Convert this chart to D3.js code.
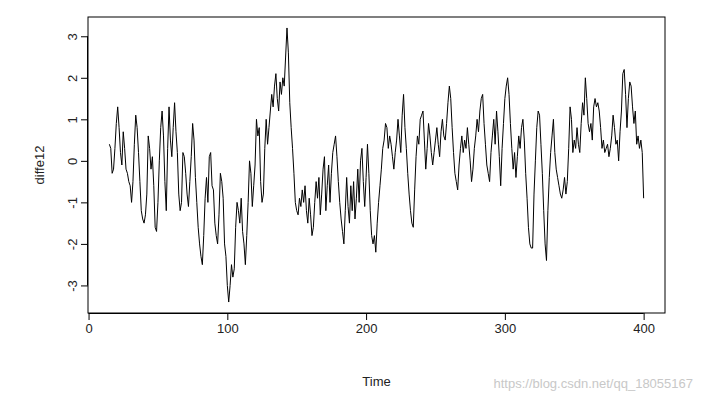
<!DOCTYPE html>
<html>
<head>
<meta charset="utf-8">
<script src="https://cdn.jsdelivr.net/npm/d3@7"></script>
<style>
  body { margin: 0; background: #fff; }
  text { font-family: "Liberation Sans", Arial, sans-serif; }
</style>
</head>
<body>
<svg width="701" height="402"></svg>
<script>
// differenced series, ends at t = 400
const diffe12 = [
  0.4, 0.3, -0.3, -0.2, 0.3, 0.9, 1.3, 0.8,
  0.2, -0.1, 0.7, 0.3, -0.2, -0.3, -0.5, -0.6, -1.0, -0.5,
  0.4, 1.1, 0.8, 0.2, -0.5, -1.2, -1.4, -1.5, -1.3, -0.8,
  0.6, 0.3, -0.2, 0.1, -0.6, -1.6, -1.7, -1.0, 0.0, 0.8,
  1.2, 0.6, -0.5, -1.2, 0.3, 1.3, 0.5, 0.1, 0.8, 1.4,
  0.7, 0.2, -0.8, -1.2, -1.0, 0.2, 0.1, -0.3, -0.8, -1.1,
  -0.5, 0.1, 0.9, 0.5, -0.4, -1.0, -1.6, -2.0, -2.3, -2.5,
  -1.8, -0.9, -0.4, -1.0, 0.1, 0.2, -0.6, -0.7, -1.5, -1.8,
  -2.0, -1.3, -0.3, -0.5, -0.9, -2.0, -2.3, -3.0, -3.4, -3.0,
  -2.5, -2.8, -2.6, -1.6, -1.0, -1.2, -1.5, -0.9, -1.7, -2.0,
  -2.5, -1.8, -1.0, 0.0, -0.3, -1.1, -0.6, -0.1, 1.0, 0.6,
  0.8, -0.5, -1.0, -0.8, 0.3, 1.0, 0.4, 0.8, 1.2, 1.6,
  1.3, 1.8, 2.1, 1.5, 1.2, 1.9, 1.6, 2.0, 1.8, 2.5,
  3.2, 2.6, 1.4, 0.8, 0.3, -0.3, -1.0, -1.2,
  -1.3, -0.9, -1.1, -0.7, -1.0, -0.6, -1.2, -1.5, -0.9, -1.3,
  -1.8, -1.6, -1.0, -0.5, -0.9, -0.4, -1.3, -0.8, -0.2, 0.1,
  -1.2, -0.6, -0.1, -1.0, -0.3, 0.2, 0.4, 0.6, 0.1, -0.5,
  -1.0, -1.4, -1.7, -2.0, -1.2, -0.4, -1.1, -1.5, -0.6, -1.2,
  -0.5, -1.4, -0.9, -0.2, -1.0, 0.0, 0.3, -0.5, -1.1, -0.4,
  0.4, -0.3, -1.2, -1.8, -2.0, -1.8, -2.2, -1.5, -1.0, -0.6,
  -0.2, 0.3, 0.5, 0.9, 0.8, 0.3, 0.6, 0.4, 0.1, -0.2,
  0.2, 0.5, 1.0, 0.6, 0.2, 1.1, 1.6, 0.8, 0.3, -0.3,
  -0.8, -1.2, -1.5, -1.6, -0.7, 0.1, 0.6, 0.4, 1.0, 1.1,
  1.2, 0.5, -0.2, 0.3, 0.9, 0.6, 0.2, -0.1, 0.2, 0.5,
  0.8, 0.4, 0.1, 0.7, 1.0, 0.6, 0.5, 0.9, 1.4, 1.8,
  1.5, 0.8, 0.2, -0.3, -0.5, -0.7, -0.1, 0.3, 0.6, 0.2,
  0.5, 0.3, 0.8, 0.4, 0.0, -0.5, -0.2, 0.3, 0.6, 1.0,
  0.7, 1.2, 1.5, 1.6, 0.9, 0.4, -0.1, -0.3, -0.5, 0.2,
  0.6, 1.0, 0.4, 1.2, 0.7, 0.1, -0.6, 0.3, 0.9, 1.5,
  1.8, 2.0, 1.6, 0.9, 0.3, -0.2, 0.2, -0.4, 0.1, 0.6,
  0.3, 0.8, 1.0, 0.5, -0.3, -0.9, -1.6, -2.0, -2.1, -2.1,
  -0.8, 0.0, 0.8, 1.2, 1.1, 0.4, -0.3, -1.2, -2.0, -2.4,
  -1.2, -0.4, 0.2, 0.6, 1.0, 0.2, -0.2, -0.4, -0.6, -0.8,
  -0.9, -0.7, -0.4, -0.8, -0.5, 0.3, 1.3, 1.0, 0.2, 0.5,
  0.3, 0.8, 0.4, 0.2, 0.9, 1.4, 1.1, 2.0, 1.5, 0.9,
  0.7, 0.9, 0.5, 1.3, 1.5, 1.3, 1.4, 1.2, 0.8, 0.3,
  0.5, 0.2, 0.3, 0.4, 0.1, 0.3, 0.6, 1.1, 0.8, 0.4,
  0.5, 0.0, 0.7, 1.2, 2.1, 2.2, 1.6, 0.8, 1.5, 1.9,
  1.8, 1.3, 0.9, 1.2, 0.4, 0.6, 0.3, 0.5, 0.2, -0.9
];
const endTime = 400;
const startTime = endTime - diffe12.length + 1;
const xTicks = [0, 100, 200, 300, 400];
const yTicks = [-3, -2, -1, 0, 1, 2, 3];

const svg = d3.select('svg');
const box = {left: 88, right: 665, top: 17, bottom: 313};

const t0 = startTime, t1 = endTime;
const xPad = (t1 - t0) * 0.04;
const yMin = d3.min(diffe12), yMax = d3.max(diffe12);
const yPad = (yMax - yMin) * 0.04;

const x = d3.scaleLinear().domain([t0 - xPad, t1 + xPad]).range([box.left, box.right]);
const y = d3.scaleLinear().domain([yMin - yPad, yMax + yPad]).range([box.bottom, box.top]);

const line = d3.line()
    .x((d, i) => x(startTime + i))
    .y((d) => y(d));

svg.append('path')
    .datum(diffe12)
    .attr('d', line)
    .attr('fill', 'none')
    .attr('stroke', '#000')
    .attr('stroke-width', 1);

svg.append('rect')
    .attr('x', box.left).attr('y', box.top)
    .attr('width', box.right - box.left).attr('height', box.bottom - box.top)
    .attr('fill', 'none').attr('stroke', '#000');

const xAxis = d3.axisBottom(x).tickValues(xTicks).tickSize(7).tickPadding(4)
    .tickFormat((d) => String(d));
svg.append('g')
    .attr('transform', `translate(0,${box.bottom})`)
    .call(xAxis)
    .call((g) => g.select('.domain').attr('d', `M${x(0)},0.5H${x(400)}`))
    .selectAll('text').style('font-size', '13px').attr('fill', '#222');

const yAxis = d3.axisLeft(y).tickValues(yTicks).tickSize(7).tickPadding(4)
    .tickFormat((d) => String(d));
const gy = svg.append('g')
    .attr('transform', `translate(${box.left},0)`)
    .call(yAxis)
    .call((g) => g.select('.domain').attr('d', `M-0.5,${y(-3)}V${y(3)}`));
gy.selectAll('.tick text')
    .style('font-size', '13px').attr('fill', '#222')
    .attr('text-anchor', 'middle')
    .attr('transform', 'translate(-16,0) rotate(-90)')
    .attr('x', 0).attr('y', 0).attr('dy', '0.35em');
svg.selectAll('.tick line').attr('stroke', '#000');
svg.selectAll('.domain').attr('stroke', '#000');

svg.append('text')
    .attr('x', (box.left + box.right) / 2).attr('y', 386)
    .attr('text-anchor', 'middle').style('font-size', '13px').attr('fill', '#222')
    .text('Time');

svg.append('text')
    .attr('transform', `translate(44,${(box.top + box.bottom) / 2}) rotate(-90)`)
    .attr('text-anchor', 'middle').style('font-size', '13px').attr('fill', '#222')
    .text('diffe12');

svg.append('text')
    .attr('x', 693).attr('y', 388)
    .attr('text-anchor', 'end').style('font-size', '13px').attr('fill', '#c8c8c8')
    .text('https://blog.csdn.net/qq_18055167');
</script>
</body>
</html>
